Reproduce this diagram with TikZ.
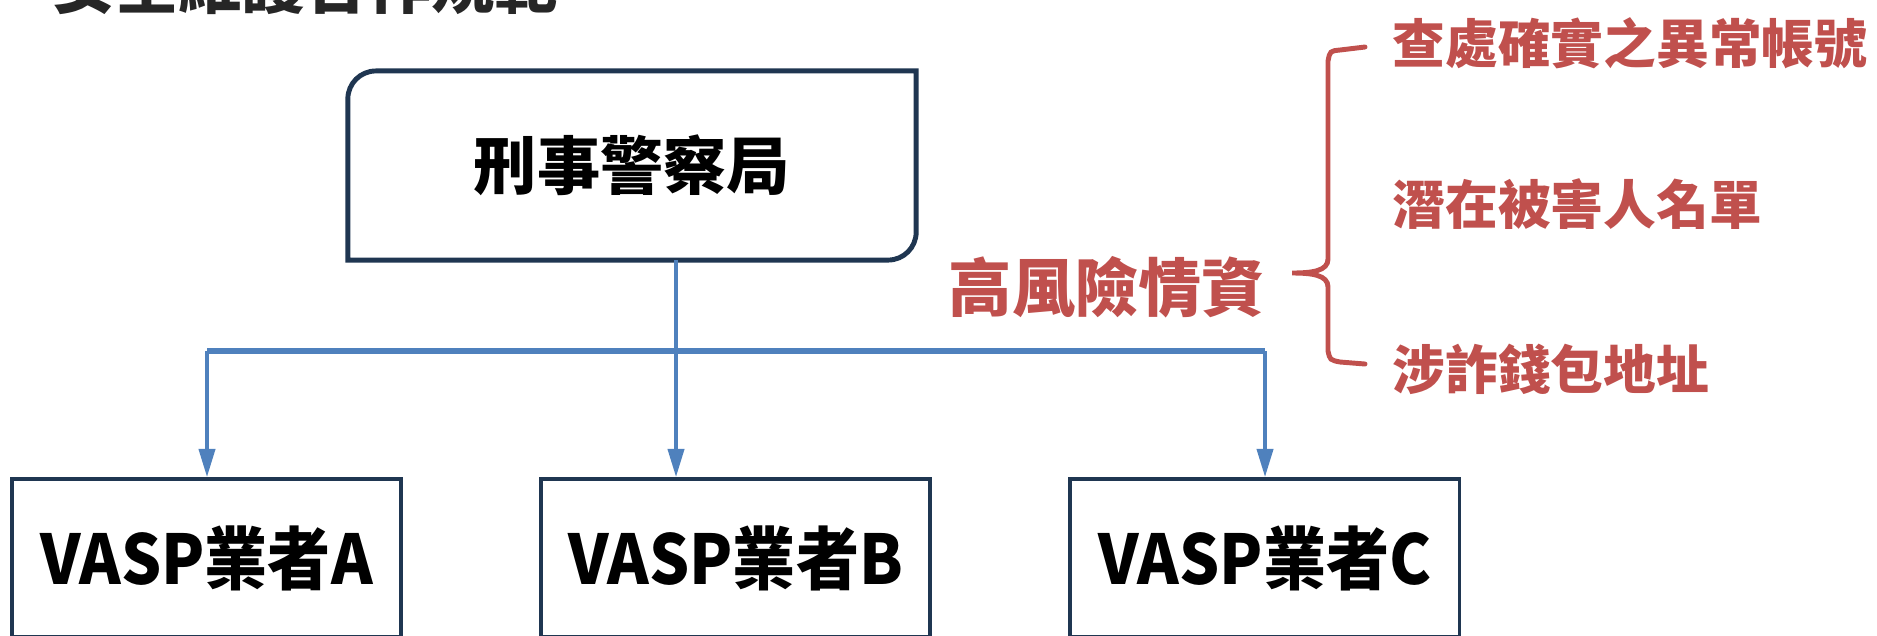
\documentclass[tikz,border=0pt]{standalone}
\usepackage{fontspec}
\setmainfont{Noto Sans CJK TC}
\newfontfamily\narrowfont{Noto Sans CJK TC}[FakeStretch=0.92]
\usetikzlibrary{positioning,arrows.meta}
\definecolor{boxnavy}{HTML}{1F3651}
\definecolor{linkblue}{HTML}{4F81BD}
\definecolor{alertred}{HTML}{C0504D}
\definecolor{titlegray}{HTML}{262626}

\begin{document}
\begin{tikzpicture}[
  x=0.01cm, y=0.01cm,
  node distance=13.6mm,
  agency/.style={
    rectangle, inner sep=0pt, outer sep=0pt,
    minimum width=5.68cm, minimum height=1.89cm,
    font=\fontsize{18pt}{20pt}\selectfont\bfseries
  },
  vasp/.style={
    rectangle, draw=boxnavy, line width=1.1pt, fill=white,
    inner sep=0pt,
    minimum width=3.89cm, minimum height=1.58cm,
    font=\narrowfont\fontsize{19.5pt}{24pt}\selectfont\bfseries
  },
  intel/.style={
    text=alertred, inner sep=0pt, anchor=west,
    font=\fontsize{15pt}{18pt}\selectfont\bfseries
  },
  link/.style={-{Triangle[length=8pt,width=4.6pt]}, draw=linkblue, line width=1pt},
  bus/.style={draw=linkblue, line width=1.7pt},
  bracket/.style={draw=alertred, line width=1.4pt, line cap=round}
]

\clip (0,0) rectangle (1877,635);

% =====================================================
% TITLE (cut by the top edge)
% =====================================================

\node[anchor=base west, inner sep=0pt, text=titlegray,
  font=\fontsize{18pt}{20pt}\selectfont\bfseries] (title) at (51,627)
{安全維護合作規範};

% =====================================================
% AGENCY
% =====================================================

\node[agency] (police) at (632,469.5) {刑事警察局};

\draw[boxnavy, line width=1.4pt]
  (police.south west) -- ([yshift=-2.8mm]police.north west)
  arc[start angle=180, end angle=90, radius=2.8mm]
  -- (police.north east) -- ([yshift=2.8mm]police.south east)
  arc[start angle=0, end angle=-90, radius=2.8mm] -- cycle;

% =====================================================
% VASP OPERATORS
% =====================================================

\node[vasp] (vaspA) at (206.5,77) {VASP業者A};
\node[vasp, right=of vaspA] (vaspB) {VASP業者B};
\node[vasp, right=of vaspB] (vaspC) {VASP業者C};

\coordinate (hub) at (676,284);
\coordinate (busL) at (207,284);
\coordinate (busR) at (1265,284);

\draw[bus] (busL) -- (busR);
\draw[link] (police.south -| hub) -- (vaspB.north -| hub);
\draw[link] (busL) -- (vaspA.north -| busL);
\draw[link] (busR) -- (vaspC.north -| busR);

% =====================================================
% HIGH-RISK INTELLIGENCE
% =====================================================

\node[text=alertred, inner sep=0pt, font=\fontsize{18pt}{20pt}\selectfont\bfseries]
  (highrisk) at (1107,348) {高風險情資};

\draw[bracket]
  (1365,588) -- (1340,585) .. controls (1330,584) .. (1328,574)
  -- (1328,376) .. controls (1328,364) and (1312,362) .. (1292,362)
  .. controls (1312,362) and (1328,360) .. (1328,348)
  -- (1328,284) .. controls (1330,275) .. (1340,273) -- (1365,271);

\node[intel] (flagged) at (1392,592) {查處確實之異常帳號};
\node[intel] (victims) at (1392,431) {潛在被害人名單};
\node[intel] (wallets) at (1392,266) {涉詐錢包地址};

\end{tikzpicture}
\end{document}
